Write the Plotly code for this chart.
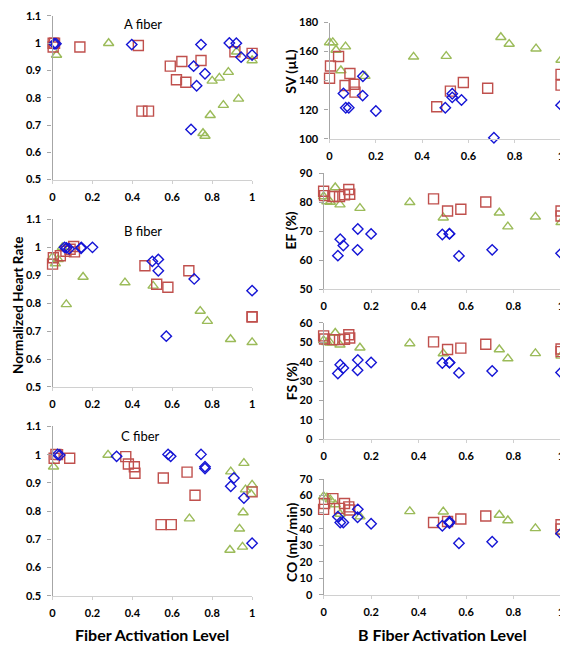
import plotly.graph_objects as go

# ---------------- Left column: fiber activation level vs normalized HR ----------------
a_blue_x = [0.008, 0.017, 0.397, 0.694, 0.707, 0.722, 0.744, 0.764, 0.886, 0.921, 0.945, 1.0]
a_blue_y = [0.998, 0.998, 0.995, 0.684, 0.916, 0.844, 0.995, 0.888, 1.001, 1.0, 0.949, 0.957]
a_red_x = [0.003, 0.003, 0.01, 0.137, 0.43, 0.448, 0.481, 0.59, 0.621, 0.648, 0.668, 0.744, 0.914, 1.0]
a_red_y = [1.0, 0.986, 1.0, 0.986, 0.992, 0.751, 0.751, 0.916, 0.866, 0.933, 0.857, 0.937, 0.969, 0.963]
a_green_x = [0.02, 0.281, 0.754, 0.764, 0.79, 0.8, 0.836, 0.856, 0.881, 0.922, 0.932, 1.0]
a_green_y = [0.957, 1.0, 0.67, 0.66, 0.736, 0.862, 0.873, 0.773, 0.894, 0.969, 0.796, 0.937]

# shared B-fiber activation levels (x) for each animal group
bx_blue = [0.06, 0.07, 0.083, 0.143, 0.144, 0.2, 0.5, 0.53, 0.53, 0.57, 0.71, 1.0]
bx_red = [0.0, 0.004, 0.039, 0.067, 0.088, 0.106, 0.11, 0.463, 0.522, 0.578, 0.683, 1.0, 1.0]
bx_green = [0.0, 0.014, 0.028, 0.049, 0.069, 0.153, 0.363, 0.504, 0.74, 0.776, 0.892, 1.0]

b_blue_y = [1.0, 0.998, 0.995, 0.997, 1.0, 1.0, 0.95, 0.957, 0.916, 0.682, 0.887, 0.845]
b_red_y = [0.94, 0.963, 0.97, 0.986, 0.993, 1.003, 0.984, 0.934, 0.868, 0.857, 0.916, 0.752, 0.75]
b_green_y = [0.965, 0.942, 0.957, 1.0, 0.796, 0.894, 0.874, 0.862, 0.772, 0.736, 0.671, 0.66]

c_blue_x = [0.025, 0.036, 0.321, 0.579, 0.592, 0.744, 0.764, 0.764, 0.893, 0.909, 0.959, 1.0]
c_blue_y = [1.001, 0.999, 0.994, 1.001, 0.994, 1.001, 0.957, 0.951, 0.888, 0.917, 0.846, 0.686]
c_red_x = [0.008, 0.017, 0.025, 0.086, 0.367, 0.38, 0.41, 0.413, 0.544, 0.555, 0.595, 0.674, 0.714, 1.0]
c_red_y = [0.987, 1.001, 1.0, 0.987, 0.993, 0.967, 0.957, 0.934, 0.752, 0.917, 0.752, 0.938, 0.856, 0.868]
c_green_x = [0.005, 0.278, 0.686, 0.889, 0.893, 0.937, 0.952, 0.955, 0.959, 0.967, 0.995, 1.0]
c_green_y = [0.957, 0.999, 0.773, 0.662, 0.94, 0.737, 0.673, 0.795, 0.97, 0.876, 0.86, 0.893]

# ---------------- Right column: hemodynamics vs B fiber activation ----------------
sv_blue = [131.2, 121.3, 121.3, 129.7, 143.0, 119.1, 121.3, 131.0, 128.5, 126.7, 100.7, 123.1]
sv_red = [141.6, 150.1, 156.6, 136.6, 144.9, 137.5, 132.1, 122.0, 132.8, 138.7, 134.8, 144.3, 136.9]
sv_green = [166.3, 166.3, 161.1, 147.0, 163.4, 143.1, 156.4, 156.9, 169.9, 165.2, 162.0, 154.2]

ef_blue = [61.5, 67.2, 65.0, 63.5, 70.7, 69.0, 68.8, 69.1, 69.0, 61.4, 63.5, 62.3]
ef_red = [83.7, 82.2, 81.9, 81.9, 82.5, 84.3, 82.7, 81.1, 76.9, 77.5, 80.0, 76.9, 75.2]
ef_green = [81.9, 80.2, 80.0, 85.0, 79.1, 77.9, 79.9, 74.6, 76.3, 71.5, 74.9, 73.0]

fs_blue = [33.9, 38.4, 36.7, 35.6, 40.9, 39.6, 39.3, 39.6, 39.5, 34.2, 35.2, 34.4]
fs_red = [53.3, 51.7, 51.4, 51.4, 51.6, 53.9, 52.2, 50.2, 46.3, 47.0, 49.0, 46.5, 45.2]
fs_green = [51.0, 50.0, 49.7, 54.8, 48.7, 47.2, 49.4, 44.2, 46.3, 41.6, 44.3, 43.0]

co_blue = [47.3, 43.8, 43.8, 46.9, 51.7, 43.0, 41.8, 44.2, 43.4, 31.2, 32.1, 37.1]
co_red = [51.7, 55.2, 58.2, 52.3, 55.2, 53.2, 51.3, 43.8, 44.4, 45.9, 47.7, 42.4, 39.8]
co_green = [59.5, 58.8, 57.6, 54.6, 48.9, 47.3, 50.5, 50.3, 48.3, 45.0, 40.2, 37.9]

BLUE = "#1515D5"
RED = "#C0504D"
GREEN = "#9BBB59"

# page body has an 8px default margin; the figure is placed at (8, 8)
OFF = 8
W, H = 560, 639

fig = go.Figure()


def add_series(ax_idx, x, y, symbol, color, size):
    sfx = "" if ax_idx == 1 else str(ax_idx)
    fig.add_trace(go.Scatter(
        x=x, y=y, mode="markers", xaxis="x" + sfx, yaxis="y" + sfx,
        showlegend=False, hoverinfo="skip", cliponaxis=False,
        marker=dict(symbol=symbol, size=size, color=color,
                    line=dict(color=color, width=1.4)),
    ))


def add_panel(idx, bx, by, rx, ry, gx, gy):
    add_series(idx, gx, gy, "triangle-up-open", GREEN, 9)
    add_series(idx, rx, ry, "square-open", RED, 10)
    add_series(idx, bx, by, "diamond-open", BLUE, 8)


add_panel(1, a_blue_x, a_blue_y, a_red_x, a_red_y, a_green_x, a_green_y)
add_panel(2, bx_blue, b_blue_y, bx_red, b_red_y, bx_green, b_green_y)
add_panel(3, c_blue_x, c_blue_y, c_red_x, c_red_y, c_green_x, c_green_y)
add_panel(4, bx_blue, sv_blue, bx_red, sv_red, bx_green, sv_green)
add_panel(5, bx_blue, ef_blue, bx_red, ef_red, bx_green, ef_green)
add_panel(6, bx_blue, fs_blue, bx_red, fs_red, bx_green, fs_green)
add_panel(7, bx_blue, co_blue, bx_red, co_red, bx_green, co_green)

TICKFONT = dict(family="Lato", size=11, color="#000000", weight="bold")


def clamp(v):
    return max(0.0, min(1.0, v))


def xdom(px0, px1):
    return [clamp((px0 - OFF) / W), clamp((px1 - OFF) / W)]


def ydom(py_top, py_bot):
    return [clamp(1 - (py_bot - OFF) / H), clamp(1 - (py_top - OFF) / H)]


def xaxis(dom, anchor):
    return dict(domain=dom, anchor=anchor, range=[0, 1], dtick=0.2, tick0=0,
                showgrid=False, zeroline=False, showline=True,
                linecolor="#D0D0D0", linewidth=1,
                ticks="outside", ticklen=3, tickcolor="#D0D0D0",
                tickfont=TICKFONT, ticklabelstandoff=4)


def yaxis(dom, anchor, rng, dtick):
    return dict(domain=dom, anchor=anchor, range=rng, dtick=dtick, tick0=rng[0],
                showgrid=False, zeroline=False, showline=True,
                linecolor="#A6A6A6", linewidth=1.2,
                ticks="outside", ticklen=4, tickcolor="#A6A6A6",
                tickfont=TICKFONT, ticklabelstandoff=4)


lx = xdom(50, 251.7)
rx_sv = xdom(330, 564)
rx = xdom(324, 564)

layout = dict(
    width=W, height=H, margin=dict(l=0, r=0, t=0, b=0),
    paper_bgcolor="white", plot_bgcolor="white",
    xaxis=xaxis(lx, "y"), yaxis=yaxis(ydom(9, 176), "x", [0.5, 1.1], 0.1),
    xaxis2=xaxis(lx, "y2"), yaxis2=yaxis(ydom(216.7, 387.7), "x2", [0.5, 1.1], 0.1),
    xaxis3=xaxis(lx, "y3"), yaxis3=yaxis(ydom(428, 600.7), "x3", [0.5, 1.1], 0.1),
    xaxis4=xaxis(rx_sv, "y4"), yaxis4=yaxis(ydom(15.7, 134.3), "x4", [100, 180], 20),
    xaxis5=xaxis(rx, "y5"), yaxis5=yaxis(ydom(169.3, 287.7), "x5", [50, 90], 10),
    xaxis6=xaxis(rx, "y6"), yaxis6=yaxis(ydom(322.3, 441), "x6", [0, 60], 10),
    xaxis7=xaxis(rx, "y7"), yaxis7=yaxis(ydom(481.7, 600), "x7", [0, 70], 10),
)
fig.update_layout(**layout)

ann = []


def add_text(text, px, py, size=13, angle=0, weight="bold"):
    ann.append(dict(text=text, x=(px - OFF) / W, y=1 - (py - OFF) / H,
                    xref="paper", yref="paper",
                    showarrow=False, textangle=angle, xanchor="center", yanchor="middle",
                    font=dict(family="Lato", size=size, color="#000000", weight=weight)))


add_text("A fiber", 141, 17, size=13, weight="normal")
add_text("B fiber", 141, 228, size=13, weight="normal")
add_text("C fiber", 139, 438, size=13, weight="normal")
add_text("Normalized Heart Rate", 15, 304, size=13.5, angle=-90)
add_text("SV (µL)", 291, 66, size=14, angle=-90)
add_text("EF (%)", 291, 228, size=14, angle=-90)
add_text("FS (%)", 291, 382, size=14, angle=-90)
add_text("CO (mL/min)", 291, 546, size=14, angle=-90)
add_text("Fiber Activation Level", 151, 640, size=16)
add_text("B Fiber Activation Level", 444, 640, size=16)

fig.update_layout(annotations=ann)
fig.write_html("out.html")
